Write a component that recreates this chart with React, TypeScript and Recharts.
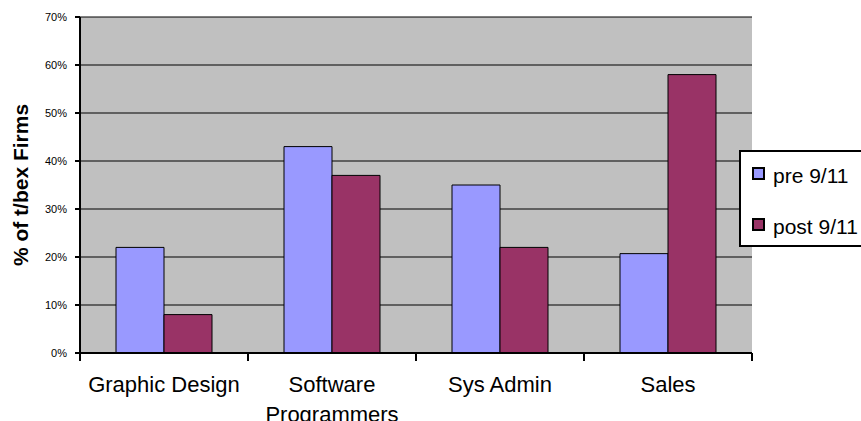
import React from 'react';
import { BarChart, Bar, XAxis, YAxis, CartesianGrid, Legend } from 'recharts';

const categories = ['Graphic Design', 'Software\nProgrammers', 'Sys Admin', 'Sales'];
const seriesNames = ['pre 9/11', 'post 9/11'];
const preValues = [22, 43, 35, 20.7];
const postValues = [8, 37, 22, 58];
const yTicks = [0, 10, 20, 30, 40, 50, 60, 70];

const data = categories.map((name, i) => ({
  name,
  pre: preValues[i],
  post: postValues[i],
}));

const FONT = '"Liberation Sans", Arial, sans-serif';
const BAND_HALF = 84;

// category label plus the tick marks that sit on the band edges
const CategoryTick = (props: any) => {
  const { x, y, payload, index } = props;
  const half = payload?.offset || BAND_HALF;
  const lines = String(payload.value).split('\n');
  return (
    <g>
      <line x1={x - half} y1={y} x2={x - half} y2={y + 8} stroke="#000" strokeWidth={2} />
      {index === categories.length - 1 && (
        <line x1={x + half} y1={y} x2={x + half} y2={y + 8} stroke="#000" strokeWidth={2} />
      )}
      {lines.map((line, i) => (
        <text
          key={i}
          x={x}
          y={y + 39 + i * 30}
          textAnchor="middle"
          fontFamily={FONT}
          fontSize={22}
          fill="#000"
        >
          {line}
        </text>
      ))}
    </g>
  );
};

const renderLegend = (props: any) => {
  const items = [...(props.payload || [])].sort(
    (a: any, b: any) => seriesNames.indexOf(a.value) - seriesNames.indexOf(b.value)
  );
  return (
    <div
      style={{
        width: 140,
        height: 97,
        border: '2px solid #000',
        background: '#fff',
        boxSizing: 'border-box',
        position: 'relative',
      }}
    >
      {items.map((entry: any, i: number) => (
        <div
          key={entry.value}
          style={{
            position: 'absolute',
            left: 11,
            top: 12 + i * 51,
            display: 'flex',
            alignItems: 'center',
            fontFamily: FONT,
            fontSize: 21,
            lineHeight: '24px',
            color: '#000',
            whiteSpace: 'nowrap',
          }}
        >
          <span
            style={{
              display: 'inline-block',
              width: 9,
              height: 9,
              border: '2px solid #000',
              background: entry.color,
              marginRight: 8,
              marginTop: -6,
            }}
          />
          {entry.value}
        </div>
      ))}
    </div>
  );
};

export default function App() {
  return (
    <div style={{ position: 'absolute', left: 0, top: 0, width: 861, height: 421, overflow: 'hidden', background: '#fff' }}>
      <BarChart
        width={861}
        height={421}
        data={data}
        margin={{ top: 17, right: 109, bottom: 0, left: 0 }}
        barSize={48}
        barGap={0}
      >
        <CartesianGrid
          vertical={false}
          stroke="#000"
          strokeWidth={1}
          fill="#C0C0C0"
          fillOpacity={1}
        />
        <XAxis
          dataKey="name"
          height={68}
          interval={0}
          axisLine={{ stroke: '#000', strokeWidth: 2 }}
          tickLine={false}
          tickSize={0}
          tickMargin={0}
          tick={<CategoryTick />}
        />
        <XAxis
          xAxisId="top"
          dataKey="name"
          orientation="top"
          height={0}
          axisLine={{ stroke: '#808080', strokeWidth: 2 }}
          tick={false}
          tickLine={false}
        />
        <YAxis
          width={80}
          domain={[0, 70]}
          ticks={yTicks}
          interval={0}
          tickFormatter={(v) => `${v}%`}
          axisLine={{ stroke: '#000', strokeWidth: 2 }}
          tickLine={{ stroke: '#000', strokeWidth: 2 }}
          tickSize={5}
          tickMargin={8}
          tick={{ fill: '#000', fontSize: 11, fontFamily: FONT }}
          label={{
            content: () => (
              <text
                x={28}
                y={185}
                transform="rotate(-90 28 185)"
                textAnchor="middle"
                fontFamily={FONT}
                fontWeight="bold"
                fontSize={21}
                fill="#000"
              >
                % of t/bex Firms
              </text>
            ),
          }}
        />
        <YAxis
          yAxisId="right"
          orientation="right"
          width={0}
          domain={[0, 70]}
          axisLine={{ stroke: '#808080', strokeWidth: 2 }}
          tick={false}
          tickLine={false}
        />
        <Legend
          layout="horizontal"
          verticalAlign="middle"
          align="center"
          content={renderLegend}
          wrapperStyle={{ left: 739, top: 150, width: 140, right: 'auto', bottom: 'auto' }}
        />
        <Bar dataKey="pre" name={seriesNames[0]} fill="#9999FF" stroke="#000" strokeWidth={1} isAnimationActive={false} />
        <Bar dataKey="post" name={seriesNames[1]} fill="#993366" stroke="#000" strokeWidth={1} isAnimationActive={false} />
      </BarChart>
    </div>
  );
}
